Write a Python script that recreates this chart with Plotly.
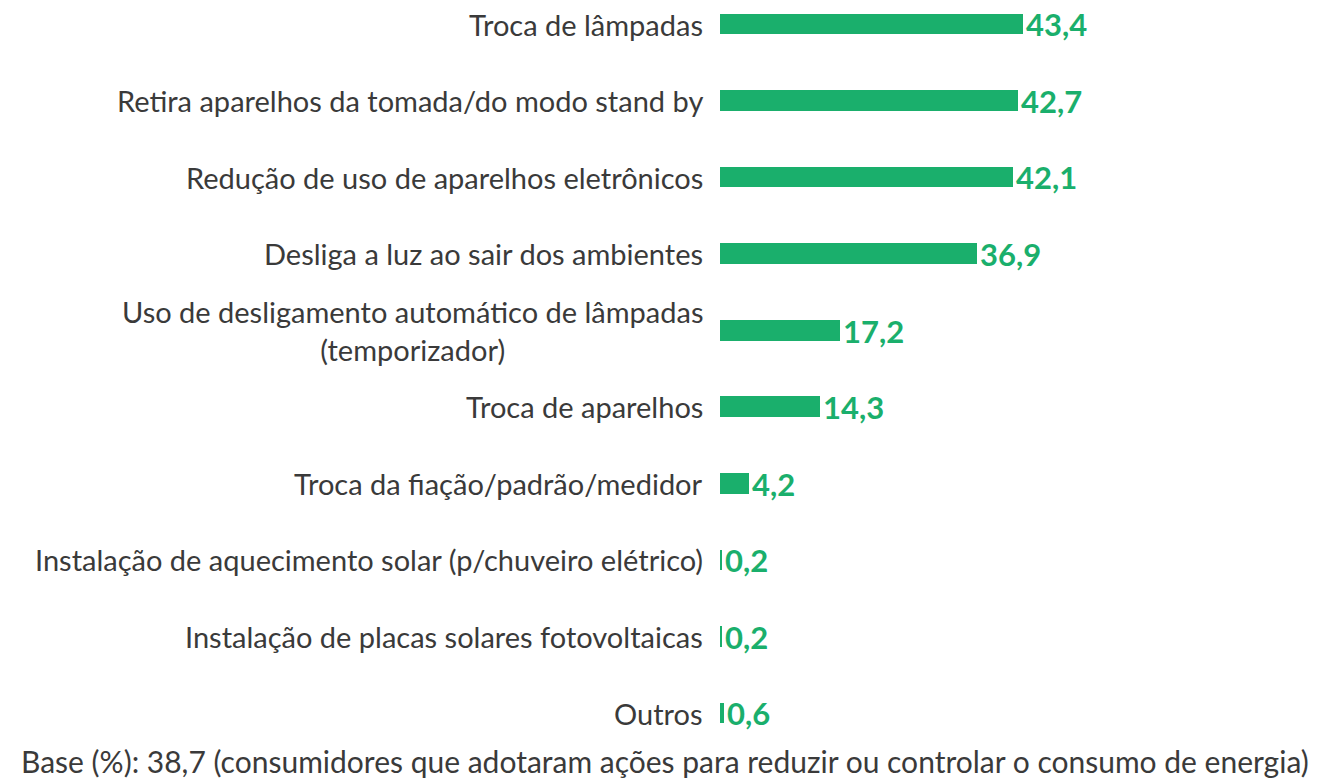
import plotly.graph_objects as go

categories = [
    "Troca de lâmpadas",
    "Retira aparelhos da tomada/do modo stand by",
    "Redução de uso de aparelhos eletrônicos",
    "Desliga a luz ao sair dos ambientes",
    "Uso de desligamento automático de lâmpadas<br>(temporizador)",
    "Troca de aparelhos",
    "Troca da fiação/padrão/medidor",
    "Instalação de aquecimento solar (p/chuveiro elétrico)",
    "Instalação de placas solares fotovoltaicas",
    "Outros",
]
values = [43.4, 42.7, 42.1, 36.9, 17.2, 14.3, 4.2, 0.2, 0.2, 0.6]
value_labels = ["43,4", "42,7", "42,1", "36,9", "17,2", "14,3", "4,2", "0,2", "0,2", "0,6"]
footer = "Base (%): 38,7 (consumidores que adotaram ações para reduzir ou controlar o consumo de energia)"

GREEN = "#1aaf6c"
TEXT = "#3a3a3a"
FONT = "Lato"

idx = list(range(len(categories)))

PLOT_L = 712
PLOT_W = 612

fig = go.Figure()
fig.add_trace(go.Bar(
    y=idx, x=values, orientation="h",
    marker=dict(color=GREEN, line=dict(width=0)),
    width=0.27,
    text=value_labels, textposition="outside", cliponaxis=False,
    constraintext="none",
    textfont=dict(family=FONT, size=31, color=GREEN, weight="bold"),
    hoverinfo="skip",
))

annotations = []
for i, c in zip(idx, categories):
    annotations.append(dict(
        x=0, y=i, xref="x", yref="y", text=c, showarrow=False,
        xanchor="right", yanchor="middle", align="center", xshift=-15,
        font=dict(family=FONT, size=29, color=TEXT),
    ))
annotations.append(dict(
    x=(657 - PLOT_L) / PLOT_W, y=0, xref="paper", yref="paper", yshift=-13,
    text=footer, showarrow=False,
    xanchor="center", yanchor="middle",
    font=dict(family=FONT, size=30, color=TEXT),
))

fig.update_layout(
    width=1324, height=774,
    margin=dict(l=PLOT_L, r=0, t=0, b=34),
    paper_bgcolor="white", plot_bgcolor="white",
    showlegend=False,
    xaxis=dict(range=[0, PLOT_W / 6.97], visible=False, fixedrange=True),
    yaxis=dict(range=[9.457, -0.209], visible=False, fixedrange=True),
    annotations=annotations,
    bargap=0,
)
fig.write_html("out.html")
